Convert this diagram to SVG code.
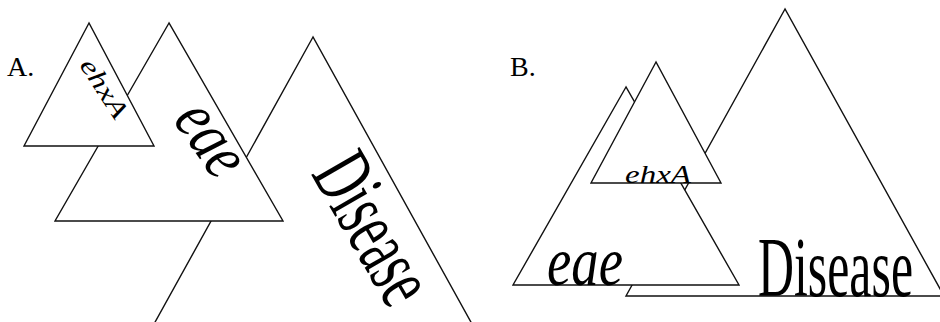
<svg xmlns="http://www.w3.org/2000/svg" width="940" height="322" viewBox="0 0 940 322">
<style>
.tri{fill:#fff;stroke:#111;stroke-width:1.4;stroke-linejoin:miter}
.lbl{font-family:"Liberation Serif","Times New Roman",serif;fill:#000}
.it{font-style:italic}
</style>
<rect width="940" height="322" fill="#fff"/>
<g id="panelA">
  <text class="lbl" x="7" y="76" font-size="28">A.</text>
  <g id="A-disease">
    <polygon class="tri" points="313,37 154,324 472,324"/>
    <text class="lbl" font-size="85" text-anchor="middle" textLength="158" lengthAdjust="spacingAndGlyphs" transform="translate(350,242) rotate(60)">Disease</text>
  </g>
  <g id="A-eae">
    <polygon class="tri" points="169,23 55,221 283,221"/>
    <text class="lbl it" font-size="70" text-anchor="middle" textLength="76" lengthAdjust="spacingAndGlyphs" transform="translate(194,151) rotate(55)">eae</text>
  </g>
  <g id="A-ehxA">
    <polygon class="tri" points="89,23 24,146 154,146"/>
    <text class="lbl it" font-size="26" text-anchor="middle" textLength="66" lengthAdjust="spacingAndGlyphs" transform="translate(97,93) rotate(57)">ehxA</text>
  </g>
</g>
<g id="panelB">
  <text class="lbl" x="510" y="76" font-size="28">B.</text>
  <g id="B-disease">
    <polygon class="tri" points="785,9 626,296 944,296"/>
    <text class="lbl" x="758" y="296" font-size="85" textLength="155" lengthAdjust="spacingAndGlyphs">Disease</text>
  </g>
  <g id="B-eae">
    <polygon class="tri" points="626,87 513,285 739,285"/>
    <text class="lbl it" x="547" y="285" font-size="70" textLength="76" lengthAdjust="spacingAndGlyphs">eae</text>
  </g>
  <g id="B-ehxA">
    <polygon class="tri" points="656,62 591,183 721,183"/>
    <text class="lbl it" x="625" y="183" font-size="26" textLength="66" lengthAdjust="spacingAndGlyphs">ehxA</text>
  </g>
</g>
</svg>
